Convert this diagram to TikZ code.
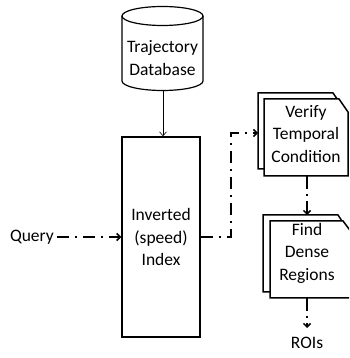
\documentclass[tikz,border=0pt]{standalone}
\usepackage{fontspec}
\setmainfont{Carlito}
\usetikzlibrary{arrows.meta}
\begin{document}
\begin{tikzpicture}[x=1pt,y=1pt,
  lbl/.style={inner sep=0pt, align=center, font=\fontsize{17.5}{22.5}\selectfont},
  boxline/.style={line width=1.5pt, line join=miter},
  dd/.style={line width=1.5pt, dash pattern=on 12pt off 6pt on 2pt off 6pt, -{Straight Barb[length=3.5pt,width=7pt,line width=1.5pt]}},
  thinarrow/.style={line width=0.6pt, -{Straight Barb[length=4pt,width=7pt]}}]
\useasboundingbox (0,0) rectangle (349,358);
\clip (0,0) rectangle (349,358);
% database cylinder
\draw[line width=1.2pt] (122,342) -- (122,277) arc[start angle=180,end angle=360,x radius=40.5pt,y radius=9.5pt] -- (203,342);
\draw[line width=1.2pt] (162.5,342) ellipse[x radius=40.5pt, y radius=9.5pt];
\node[lbl] (db) at (162.5,300) {Trajectory\\Database};
\coordinate (dbb) at (163,267.5);
% index
\node[lbl, draw, boxline, minimum width=78pt, minimum height=200pt] (idx) at (161,121) {Inverted\\(speed)\\Index};
% query
\node[lbl, anchor=east] (query) at (54,121) {Query};
% verify
\draw[boxline, fill=white] (258,189) -- (258,265) -- (333,265) -- (342,252) -- (342,189) -- cycle;
\draw[boxline, fill=white] (264,182) -- (264,259) -- (339,259) -- (348,246) -- (348,182) -- cycle;
\node[lbl] (ver) at (306,224) {Verify\\Temporal\\Condition};
\coordinate (verin) at (258,225);
\coordinate (verbot) at (307,182);
% find
\draw[boxline, fill=white] (263,66) -- (263,143) -- (338,143) -- (346,131) -- (346,66) -- cycle;
\draw[boxline, fill=white] (270,60) -- (270,137) -- (343,137) -- (352,125) -- (352,60) -- cycle;
\node[lbl] (fdr) at (307,105) {Find\\Dense\\Regions};
\coordinate (fdrtop) at (307,143);
\coordinate (fdrbot) at (307,60);
% rois
\node[lbl, anchor=north] (rois) at (307,21) {ROIs};
% connectors
\draw[thinarrow] (dbb) -- (dbb |- idx.north);
\draw[dd] (query.east) ++(3,0) -- (idx.west);
\draw[dd] (idx.east) -- ++(30,0) |- (verin);
\draw[dd, dash pattern=on 13pt off 5pt on 2pt off 5pt] (verbot) -- (fdrtop);
\draw[dd, dash pattern=on 13pt off 5pt on 2pt off 5pt] (fdrbot) -- ([yshift=9pt]rois.north);
\end{tikzpicture}
\end{document}
